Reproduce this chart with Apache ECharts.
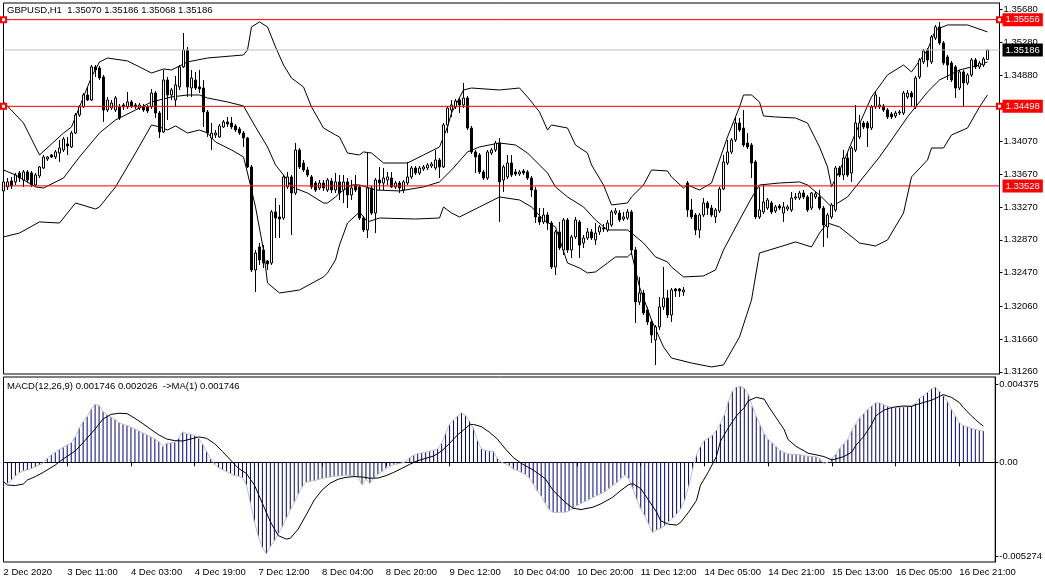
<!DOCTYPE html>
<html><head><meta charset="utf-8">
<script src="https://cdn.jsdelivr.net/npm/echarts@6/dist/echarts.min.js"></script>
<style>html,body{margin:0;padding:0;background:#fff}#c{width:1045px;height:584px}</style>
</head><body><div id="c"></div>
<script>
const symbolName = 'GBPUSD,H1';
const timeLabels = ['2 Dec 2020','3 Dec 11:00','4 Dec 03:00','4 Dec 19:00','7 Dec 12:00','8 Dec 04:00','8 Dec 20:00','9 Dec 12:00','10 Dec 04:00','10 Dec 20:00','11 Dec 12:00','14 Dec 05:00','14 Dec 21:00','15 Dec 13:00','16 Dec 05:00','16 Dec 21:00'];
const priceTicks = ['1.35680','1.35280','1.34880','1.34470','1.34070','1.33670','1.33270','1.32870','1.32470','1.32060','1.31660','1.31260'];
const macdTicks = [0.004375, 0, -0.005274];
const redLevels = [1.35556, 1.34498, 1.33528];
const lastPrice = 1.35186;

// [open, close, low, high]
const candles = [
[1.33466,1.33576,1.33441,1.33624],[1.33515,1.33576,1.33478,1.33624],[1.33588,1.33527,1.33490,1.33637],[1.33576,1.33661,1.33539,1.33685],[1.33685,1.33624,1.33576,1.33710],
[1.33600,1.33698,1.33515,1.33722],[1.33698,1.33600,1.33563,1.33722],[1.33685,1.33539,1.33515,1.33710],[1.33539,1.33661,1.33527,1.33685],[1.33649,1.33759,1.33624,1.33771],
[1.33746,1.33881,1.33734,1.33905],[1.33856,1.33881,1.33832,1.33893],[1.33905,1.33881,1.33868,1.33917],[1.33881,1.33942,1.33856,1.33966],[1.33929,1.33990,1.33820,1.34088],
[1.33966,1.34100,1.33942,1.34125],[1.34039,1.34015,1.33905,1.34125],[1.34003,1.34173,1.33990,1.34198],[1.34173,1.34393,1.34161,1.34417],[1.34393,1.34491,1.34369,1.34515],
[1.34491,1.34637,1.34478,1.34661],[1.34637,1.34576,1.34564,1.34735],[1.34576,1.34979,1.34564,1.35003],[1.34979,1.34942,1.34857,1.35003],[1.34966,1.34844,1.34820,1.34991],
[1.34857,1.34454,1.34308,1.34881],[1.34454,1.34576,1.34430,1.34613],[1.34478,1.34539,1.34454,1.34576],[1.34454,1.34600,1.34430,1.34625],[1.34491,1.34356,1.34332,1.34527],
[1.34515,1.34491,1.34454,1.34539],[1.34491,1.34552,1.34466,1.34674],[1.34552,1.34503,1.34478,1.34576],[1.34515,1.34491,1.34466,1.34539],[1.34478,1.34515,1.34454,1.34539],
[1.34491,1.34454,1.34430,1.34527],[1.34491,1.34442,1.34417,1.34515],[1.34491,1.34661,1.34466,1.34710],[1.34661,1.34417,1.34356,1.34686],[1.34417,1.34186,1.34112,1.34442],
[1.34186,1.34820,1.34173,1.34942],[1.34820,1.34637,1.34332,1.34857],[1.34637,1.34698,1.34576,1.34722],[1.34576,1.34759,1.34491,1.34869],[1.34735,1.34979,1.34698,1.35003],
[1.34979,1.35186,1.34966,1.35393],[1.35186,1.34735,1.34613,1.35223],[1.34722,1.34844,1.34613,1.34942],[1.34820,1.34722,1.34698,1.34918],[1.34735,1.34710,1.34661,1.34942],
[1.34722,1.34430,1.34247,1.34820],[1.34430,1.34173,1.34125,1.34454],[1.34112,1.34173,1.33966,1.34295],[1.34149,1.34173,1.34112,1.34210],[1.34125,1.34259,1.34112,1.34283],
[1.34247,1.34308,1.34234,1.34332],[1.34308,1.34283,1.34247,1.34369],[1.34295,1.34247,1.34222,1.34369],[1.34259,1.34210,1.34186,1.34283],[1.34222,1.34173,1.34149,1.34247],
[1.34173,1.34112,1.34003,1.34198],[1.34112,1.33759,1.33746,1.34125],[1.33759,1.32502,1.32478,1.33783],[1.32502,1.32709,1.32234,1.32746],[1.32783,1.32624,1.32563,1.32831],
[1.32746,1.32587,1.32526,1.32807],[1.32612,1.32575,1.32502,1.32624],[1.32587,1.33210,1.32563,1.33234],[1.33210,1.33136,1.32892,1.33380],[1.33149,1.33124,1.32892,1.33295],
[1.33136,1.33637,1.33112,1.33661],[1.33515,1.33637,1.33490,1.33698],[1.33637,1.33441,1.32929,1.33661],[1.33441,1.33966,1.33417,1.34051],[1.33966,1.33759,1.33734,1.33990],
[1.33807,1.33722,1.33698,1.33844],[1.33722,1.33661,1.33637,1.33759],[1.33637,1.33515,1.33490,1.33661],[1.33563,1.33478,1.33454,1.33588],[1.33502,1.33563,1.33478,1.33600],
[1.33563,1.33502,1.33466,1.33600],[1.33478,1.33600,1.33454,1.33624],[1.33588,1.33478,1.33441,1.33624],[1.33478,1.33576,1.33441,1.33685],[1.33576,1.33441,1.33356,1.33661],
[1.33478,1.33576,1.33319,1.33661],[1.33576,1.33417,1.33258,1.33624],[1.33417,1.33502,1.33356,1.33600],[1.33539,1.33478,1.33454,1.33661],[1.33515,1.33136,1.33112,1.33539],
[1.33136,1.32990,1.32966,1.33161],[1.32990,1.33502,1.32892,1.33929],[1.33502,1.33197,1.33173,1.33527],[1.33197,1.33600,1.32953,1.33624],[1.33600,1.33563,1.33478,1.33759],
[1.33563,1.33624,1.33478,1.33746],[1.33600,1.33637,1.33539,1.33698],[1.33624,1.33515,1.33502,1.33698],[1.33515,1.33563,1.33490,1.33588],[1.33563,1.33502,1.33441,1.33588],
[1.33478,1.33576,1.33441,1.33600],[1.33563,1.33637,1.33539,1.33820],[1.33637,1.33746,1.33612,1.33771],[1.33746,1.33685,1.33661,1.33771],[1.33685,1.33746,1.33661,1.33771],
[1.33734,1.33759,1.33710,1.33783],[1.33746,1.33783,1.33722,1.33807],[1.33771,1.33795,1.33746,1.33820],[1.33746,1.33844,1.33722,1.33966],[1.33844,1.33759,1.33624,1.33868],
[1.33759,1.34271,1.33746,1.34295],[1.34271,1.34478,1.34173,1.34503],[1.34454,1.34515,1.34369,1.34576],[1.34491,1.34564,1.34466,1.34588],[1.34576,1.34515,1.34417,1.34600],
[1.34515,1.34600,1.34478,1.34783],[1.34600,1.34234,1.34210,1.34625],[1.34234,1.33942,1.33917,1.34259],[1.33942,1.33881,1.33685,1.33966],[1.33905,1.33698,1.33673,1.33929],
[1.33698,1.33624,1.33600,1.33722],[1.33624,1.33942,1.33600,1.33966],[1.33929,1.33966,1.33905,1.33990],[1.33966,1.34051,1.33942,1.34076],[1.34051,1.33576,1.33088,1.34112],
[1.33600,1.33759,1.33454,1.33783],[1.33637,1.33807,1.33612,1.33905],[1.33807,1.33661,1.33637,1.33905],[1.33698,1.33673,1.33649,1.33734],[1.33673,1.33698,1.33649,1.33722],
[1.33710,1.33685,1.33661,1.33734],[1.33698,1.33624,1.33600,1.33722],[1.33624,1.33478,1.33393,1.33649],[1.33478,1.33149,1.33075,1.33515],[1.33149,1.33088,1.33051,1.33258],
[1.33088,1.33173,1.33063,1.33258],[1.33173,1.33075,1.32990,1.33210],[1.33075,1.32539,1.32514,1.33100],[1.32539,1.32966,1.32441,1.32990],[1.32966,1.32771,1.32746,1.33088],
[1.32746,1.33112,1.32685,1.33136],[1.33112,1.32746,1.32709,1.33136],[1.32746,1.32905,1.32648,1.32929],[1.32905,1.33112,1.32880,1.33149],[1.33088,1.32807,1.32648,1.33112],
[1.32831,1.32892,1.32770,1.32929],[1.32892,1.32966,1.32868,1.33014],[1.32966,1.32892,1.32868,1.33002],[1.32868,1.32953,1.32807,1.33075],[1.32966,1.33027,1.32929,1.33051],
[1.33014,1.33002,1.32966,1.33063],[1.32990,1.33075,1.32966,1.33112],[1.33051,1.33210,1.33027,1.33234],[1.33197,1.33222,1.33173,1.33258],[1.33197,1.33112,1.33088,1.33234],
[1.33124,1.33149,1.33100,1.33210],[1.33136,1.33210,1.33112,1.33246],[1.33210,1.32746,1.32685,1.33234],[1.32746,1.32112,1.31855,1.32783],[1.32112,1.32221,1.32075,1.32417],
[1.32221,1.31977,1.31953,1.32258],[1.32014,1.31868,1.31831,1.32051],[1.31868,1.31709,1.31611,1.31892],[1.31648,1.31807,1.31343,1.31831],[1.31807,1.32051,1.31770,1.32173],
[1.32051,1.32160,1.32014,1.32539],[1.32160,1.31953,1.31916,1.32258],[1.31953,1.32258,1.31868,1.32282],[1.32270,1.32246,1.32173,1.32282],[1.32270,1.32246,1.32173,1.32282],
[1.32234,1.32258,1.32185,1.32295],[1.33563,1.33234,1.33149,1.33588],[1.33234,1.33149,1.33124,1.33368],[1.33173,1.32990,1.32929,1.33197],[1.32990,1.33173,1.32892,1.33197],
[1.33173,1.33319,1.33149,1.33380],[1.33319,1.33258,1.33173,1.33344],[1.33258,1.33173,1.33149,1.33295],[1.33149,1.33234,1.33075,1.33258],[1.33222,1.33490,1.33197,1.33515],
[1.33490,1.33820,1.33478,1.33905],[1.33807,1.33942,1.33783,1.34088],[1.33942,1.34088,1.33917,1.34112],[1.34088,1.34295,1.34064,1.34369],[1.34295,1.34210,1.34186,1.34356],
[1.34234,1.34027,1.34003,1.34454],[1.34051,1.34003,1.33978,1.34173],[1.34027,1.33807,1.33624,1.34051],[1.33820,1.33149,1.33124,1.33844],[1.33149,1.33234,1.33124,1.33515],
[1.33210,1.33332,1.33185,1.33539],[1.33258,1.33356,1.33234,1.33380],[1.33319,1.33210,1.33185,1.33344],[1.33222,1.33271,1.33197,1.33295],[1.33283,1.33258,1.33234,1.33307],
[1.33197,1.33271,1.33088,1.33332],[1.33246,1.33271,1.33222,1.33295],[1.33234,1.33380,1.33210,1.33454],[1.33380,1.33393,1.33356,1.33441],[1.33380,1.33441,1.33356,1.33466],
[1.33441,1.33393,1.33368,1.33478],[1.33393,1.33234,1.33210,1.33417],[1.33258,1.33441,1.33234,1.33454],[1.33393,1.33429,1.33368,1.33454],[1.33393,1.33258,1.33234,1.33478],
[1.33258,1.33051,1.32783,1.33283],[1.33027,1.33173,1.32892,1.33197],[1.33149,1.33295,1.33124,1.33319],[1.33234,1.33746,1.33210,1.33771],[1.33746,1.33661,1.33637,1.33771],
[1.33661,1.33868,1.33600,1.33966],[1.33868,1.33661,1.33637,1.33942],[1.33685,1.33990,1.33576,1.34015],[1.33966,1.34295,1.33942,1.34515],[1.34125,1.34295,1.34100,1.34393],
[1.34295,1.34247,1.34222,1.34320],[1.34295,1.34234,1.34003,1.34320],[1.34234,1.34491,1.34210,1.34515],[1.34491,1.34637,1.34466,1.34674],[1.34491,1.34515,1.34466,1.34613],
[1.34503,1.34454,1.34430,1.34527],[1.34454,1.34369,1.34344,1.34478],[1.34405,1.34369,1.34344,1.34430],[1.34381,1.34417,1.34356,1.34442],[1.34417,1.34430,1.34393,1.34454],
[1.34417,1.34661,1.34393,1.34686],[1.34613,1.34661,1.34588,1.34698],[1.34661,1.34613,1.34491,1.34686],[1.34491,1.34844,1.34466,1.34869],[1.34857,1.35064,1.34832,1.35088],
[1.35040,1.35174,1.35015,1.35198],[1.35186,1.35064,1.34979,1.35210],[1.35040,1.35345,1.35015,1.35369],[1.35332,1.35467,1.35308,1.35491],[1.35467,1.35271,1.35247,1.35528],
[1.35271,1.35027,1.35003,1.35296],[1.35101,1.35003,1.34820,1.35125],[1.35027,1.34820,1.34796,1.35052],[1.34979,1.34722,1.34600,1.35003],[1.34722,1.34918,1.34698,1.34942],
[1.34918,1.34783,1.34503,1.34942],[1.34783,1.34881,1.34759,1.34905],[1.34881,1.35064,1.34857,1.35088],[1.35064,1.34979,1.34954,1.35088],[1.34979,1.35027,1.34954,1.35052],
[1.35003,1.35076,1.34979,1.35101],[1.35070,1.35186,1.35068,1.35186]
];

// Bollinger bands read at sample bars: [barIndex, value]
const bbUpper = [[0,1.34552],[5,1.34295],[9,1.33905],[15,1.34173],[17,1.34247],[20,1.34613],[22,1.34857],[24,1.35040],[26,1.35088],[31,1.35052],[34,1.34979],[37,1.34905],[40,1.34954],[42,1.34942],[46,1.35040],[51,1.35088],[60,1.35125],[61,1.35186],[62,1.35467],[64,1.35528],[66,1.35467],[68,1.35223],[70,1.35003],[72,1.34844],[75,1.34735],[77,1.34491],[80,1.34234],[83,1.34149],[84,1.34125],[86,1.33929],[89,1.33905],[90,1.33942],[92,1.33929],[95,1.33807],[101,1.33807],[105,1.33905],[109,1.34003],[111,1.34247],[112,1.34417],[115,1.34698],[117,1.34722],[124,1.34698],[129,1.34722],[131,1.34613],[134,1.34430],[136,1.34210],[137,1.34271],[141,1.34234],[143,1.34027],[146,1.33929],[147,1.33783],[150,1.33539],[152,1.33295],[156,1.33319],[157,1.33393],[160,1.33539],[162,1.33722],[166,1.33710],[167,1.33637],[170,1.33502],[171,1.33539],[174,1.33478],[177,1.33563],[179,1.33844],[181,1.34125],[184,1.34491],[185,1.34637],[187,1.34637],[189,1.34552],[190,1.34381],[193,1.34369],[198,1.34356],[201,1.34295],[204,1.34003],[206,1.33759],[207,1.33515],[210,1.33820],[213,1.34173],[217,1.34613],[221,1.34881],[225,1.35003],[227,1.34918],[231,1.35186],[233,1.35430],[236,1.35491],[241,1.35491],[246,1.35406]];
const bbMiddle = [[0,1.33722],[3,1.33661],[8,1.33515],[10,1.33502],[15,1.33624],[19,1.33881],[24,1.34173],[28,1.34332],[33,1.34454],[37,1.34552],[42,1.34613],[46,1.34637],[49,1.34637],[51,1.34600],[56,1.34552],[60,1.34503],[61,1.34417],[63,1.34247],[66,1.34003],[68,1.33783],[71,1.33600],[72,1.33515],[76,1.33441],[80,1.33319],[81,1.33319],[83,1.33393],[84,1.33441],[87,1.33539],[89,1.33539],[93,1.33478],[99,1.33466],[105,1.33515],[109,1.33576],[112,1.33722],[116,1.33942],[119,1.34003],[124,1.34051],[128,1.34027],[131,1.33929],[136,1.33685],[138,1.33515],[141,1.33393],[145,1.33271],[148,1.33112],[151,1.32990],[156,1.32990],[157,1.32953],[160,1.32831],[163,1.32661],[166,1.32600],[167,1.32539],[170,1.32417],[175,1.32429],[178,1.32502],[180,1.32746],[184,1.33112],[187,1.33380],[189,1.33539],[194,1.33563],[199,1.33576],[201,1.33539],[204,1.33417],[207,1.33271],[211,1.33393],[214,1.33576],[219,1.33881],[222,1.34088],[226,1.34369],[231,1.34674],[234,1.34820],[239,1.34942],[244,1.35003],[246,1.35040]];
const bbLower = [[0,1.32905],[4,1.32953],[9,1.33088],[14,1.33075],[18,1.33319],[23,1.33246],[24,1.33271],[28,1.33515],[33,1.33929],[37,1.34271],[39,1.34247],[41,1.34210],[43,1.34259],[46,1.34173],[49,1.34210],[51,1.34173],[53,1.34064],[57,1.33966],[60,1.33881],[61,1.33685],[63,1.33271],[65,1.32746],[66,1.32344],[69,1.32221],[74,1.32258],[80,1.32417],[81,1.32466],[83,1.32624],[84,1.32807],[86,1.33075],[89,1.33210],[91,1.33088],[94,1.33136],[103,1.33124],[109,1.33136],[110,1.33271],[112,1.33197],[114,1.33149],[119,1.33271],[124,1.33393],[129,1.33356],[132,1.33271],[135,1.33112],[138,1.33027],[141,1.32587],[144,1.32526],[146,1.32466],[148,1.32478],[151,1.32587],[153,1.32661],[156,1.32661],[157,1.32709],[159,1.32295],[162,1.31892],[165,1.31563],[167,1.31428],[172,1.31367],[177,1.31319],[180,1.31343],[184,1.31685],[187,1.32136],[189,1.32709],[194,1.32783],[198,1.32844],[202,1.32783],[204,1.32953],[206,1.33075],[209,1.33027],[214,1.32831],[218,1.32795],[221,1.32868],[225,1.33197],[227,1.33637],[231,1.33844],[232,1.33990],[235,1.33990],[237,1.34149],[241,1.34234],[244,1.34491],[246,1.34637]];

// MACD main (histogram) per bar
const macd = [
-0.00136,-0.00117,-0.00099,-0.00075,-0.00058,-0.00048,-0.00043,-0.00035,-0.00026,-0.00015,
-0.00004,0.00022,0.00041,0.00056,0.00071,0.00084,0.00097,0.00108,0.00142,0.00190,
0.00227,0.00255,0.00296,0.00324,0.00317,0.00283,0.00265,0.00253,0.00239,0.00222,
0.00212,0.00205,0.00196,0.00186,0.00175,0.00164,0.00153,0.00142,0.00130,0.00116,
0.00088,0.00106,0.00108,0.00112,0.00134,0.00170,0.00160,0.00157,0.00149,0.00134,
0.00101,0.00060,0.00019,-0.00011,-0.00030,-0.00041,-0.00052,-0.00063,-0.00073,-0.00078,
-0.00086,-0.00127,-0.00229,-0.00332,-0.00415,-0.00477,-0.00512,-0.00471,-0.00440,-0.00402,
-0.00360,-0.00313,-0.00266,-0.00224,-0.00179,-0.00136,-0.00112,-0.00106,-0.00103,-0.00097,
-0.00091,-0.00086,-0.00082,-0.00078,-0.00076,-0.00075,-0.00071,-0.00073,-0.00076,-0.00080,
-0.00127,-0.00095,-0.00117,-0.00086,-0.00067,-0.00052,-0.00035,-0.00022,-0.00013,-0.00008,
-0.00004,0.00004,0.00026,0.00039,0.00048,0.00052,0.00056,0.00062,0.00067,0.00075,
0.00106,0.00162,0.00212,0.00237,0.00257,0.00276,0.00261,0.00231,0.00190,0.00123,
0.00075,0.00067,0.00063,0.00060,0.00022,0.00000,-0.00008,-0.00019,
-0.00038,-0.00045,-0.00057,-0.00068,-0.00087,-0.00121,-0.00159,-0.00189,-0.00228,-0.00264,
-0.00279,-0.00281,-0.00279,-0.00279,-0.00272,-0.00257,-0.00242,-0.00230,-0.00219,-0.00208,
-0.00196,-0.00185,-0.00176,-0.00164,-0.00147,-0.00128,-0.00113,-0.00091,-0.00072,-0.00091,
-0.00147,-0.00208,-0.00261,-0.00298,-0.00346,-0.00393,-0.00378,-0.00368,-0.00355,-0.00332,
-0.00312,-0.00289,-0.00261,-0.00213,-0.00138,-0.00040,0.00042,0.00089,0.00121,0.00136,
0.00151,0.00178,0.00217,0.00264,0.00340,0.00397,0.00419,0.00423,0.00415,0.00381,
0.00315,0.00259,0.00208,0.00159,0.00127,0.00108,0.00087,0.00066,0.00055,0.00047,
0.00045,0.00045,0.00042,0.00036,0.00034,0.00032,0.00030,0.00019,-0.00006,0.00000,
0.00023,0.00045,0.00079,0.00104,0.00127,0.00178,0.00215,0.00249,0.00272,0.00295,
0.00315,0.00332,0.00332,0.00321,0.00313,0.00306,0.00306,0.00308,0.00310,0.00312,
0.00317,0.00329,0.00359,0.00372,0.00391,0.00410,0.00419,0.00397,0.00374,0.00340,
0.00296,0.00259,0.00220,0.00205,0.00198,0.00190,0.00184,0.00178,0.001746
];

// MACD signal read at sample bars: [barIndex, value]
const signal = [[0,-0.00108],[1,-0.00127],[3,-0.00130],[5,-0.00121],[6,-0.00099],[8,-0.00080],[10,-0.00056],[13,-0.00015],[15,0.00019],[18,0.00063],[20,0.00110],[23,0.00186],[25,0.00242],[27,0.00268],[29,0.00274],[31,0.00272],[33,0.00246],[35,0.00216],[37,0.00184],[39,0.00153],[41,0.00130],[43,0.00121],[45,0.00119],[47,0.00130],[49,0.00142],[51,0.00134],[53,0.00104],[55,0.00060],[57,0.00013],[59,-0.00034],[61,-0.00063],[63,-0.00127],[65,-0.00229],[67,-0.00332],[69,-0.00410],[71,-0.00429],[72,-0.00425],[74,-0.00373],[76,-0.00294],[78,-0.00211],[80,-0.00155],[82,-0.00117],[84,-0.00095],[86,-0.00084],[88,-0.00080],[90,-0.00082],[92,-0.00089],[94,-0.00088],[96,-0.00075],[98,-0.00056],[100,-0.00034],[102,-0.00011],[104,0.00009],[106,0.00022],[108,0.00035],[110,0.00063],[112,0.00106],[114,0.00153],[116,0.00190],[117,0.00209],[118,0.00212],[120,0.00199],[122,0.00168],[124,0.00130],[126,0.00075],[128,0.00027],[130,-0.00006],[133,-0.00043],[136,-0.00091],[138,-0.00157],[141,-0.00223],[143,-0.00257],[145,-0.00264],[148,-0.00251],[150,-0.00232],[153,-0.00195],[155,-0.00157],[157,-0.00125],[158,-0.00119],[160,-0.00147],[162,-0.00213],[164,-0.00279],[165,-0.00327],[167,-0.00346],[169,-0.00351],[170,-0.00336],[172,-0.00279],[174,-0.00213],[175,-0.00128],[177,-0.00053],[179,0.00032],[180,0.00117],[182,0.00193],[184,0.00259],[186,0.00306],[187,0.00344],[189,0.00363],[191,0.00353],[192,0.00315],[194,0.00249],[196,0.00183],[197,0.00127],[199,0.00089],[201,0.00064],[202,0.00051],[204,0.00042],[206,0.00032],[208,0.00013],[209,0.00019],[211,0.00032],[213,0.00057],[214,0.00094],[216,0.00145],[218,0.00212],[219,0.00259],[221,0.00291],[223,0.00306],[224,0.00310],[226,0.00315],[228,0.00312],[229,0.00321],[231,0.00334],[233,0.00347],[235,0.00368],[236,0.00378],[238,0.00363],[240,0.00334],[241,0.00306],[243,0.00260],[244,0.00240],[245,0.00220],[246,0.002026]];

const FONT = '"Liberation Sans", Arial, sans-serif';
const NCAT = 250;
const categories = Array.from({length: NCAT}, (_, i) => String(i));
const last = candles[candles.length - 1];
const f5 = v => v.toFixed(5);
const macdLast = macd[macd.length - 1];
const sigLast = signal[signal.length - 1][1];

const chart = echarts.init(document.getElementById('c'), null, {renderer: 'canvas'});

// horizontal price level drawn as a two-point line across the whole axis, labelled at its end
const levelSeries = (v, color, bg, squares) => ({
  type: 'line', xAxisIndex: 0, yAxisIndex: 0, silent: true, z: 5, clip: false,
  data: [[0, v], [NCAT - 1, v]],
  symbol: squares ? 'emptyRect' : 'none', showSymbol: squares, showAllSymbol: true, symbolSize: 5,
  itemStyle: {color: color, borderColor: color, borderWidth: 1},
  lineStyle: {color: color, width: 1},
  endLabel: {show: true, distance: 3, formatter: () => f5(v), color: '#fff', backgroundColor: bg,
             padding: [2, 3, 1, 3], fontSize: 9.5, fontFamily: FONT}
});

chart.setOption({
  animation: false,
  backgroundColor: '#fff',
  title: [
    {text: `${symbolName}  ${f5(last[0])} ${f5(last[3])} ${f5(last[2])} ${f5(last[1])}`, left: 7, top: 5, padding: 0,
     textStyle: {fontSize: 9.5, fontWeight: 'normal', color: '#000', fontFamily: FONT}},
    {text: `MACD(12,26,9) ${macdLast.toFixed(6)} ${sigLast.toFixed(6)}  ->MA(1) ${macdLast.toFixed(6)}`, left: 7, top: 381, padding: 0,
     textStyle: {fontSize: 9.5, fontWeight: 'normal', color: '#000', fontFamily: FONT}}
  ],
  grid: [
    {left: 3.5, top: 3, width: 996, height: 371, show: true, borderColor: '#000', borderWidth: 1},
    {left: 3.5, top: 377, width: 996, height: 185, show: true, borderColor: '#000', borderWidth: 1}
  ],
  xAxis: [
    {gridIndex: 0, type: 'category', data: categories, boundaryGap: false,
     axisLine: {show: false}, axisTick: {show: false}, axisLabel: {show: false}, splitLine: {show: false}},
    {gridIndex: 1, type: 'category', data: categories, boundaryGap: false,
     axisLine: {show: true, lineStyle: {color: '#000'}},
     axisTick: {show: true, interval: 15, length: 4, lineStyle: {color: '#000'}},
     axisLabel: {interval: 15, align: 'left', margin: 5, fontSize: 9.5, color: '#000', fontFamily: FONT,
       formatter: (v, idx) => timeLabels[Math.round(idx / 16)] || ''},
     splitLine: {show: false}}
  ],
  yAxis: [
    {gridIndex: 0, type: 'value', position: 'right', min: 1.31233, max: 1.35759, scale: true,
     splitLine: {show: false},
     axisLine: {show: true, lineStyle: {color: '#000'}},
     axisTick: {show: true, length: 3, customValues: priceTicks.map(Number), lineStyle: {color: '#000'}},
     axisLabel: {customValues: priceTicks.map(Number), formatter: v => v.toFixed(5), margin: 4,
       fontSize: 9.5, color: '#000', fontFamily: FONT}},
    {gridIndex: 1, type: 'value', position: 'right', min: -0.005573, max: 0.004768,
     splitLine: {show: false},
     axisLine: {show: true, lineStyle: {color: '#000'}},
     axisTick: {show: true, length: 3, customValues: macdTicks, lineStyle: {color: '#000'}},
     axisLabel: {customValues: macdTicks, formatter: v => (v === 0 ? '0.00' : v.toFixed(6)), margin: 4,
       fontSize: 9.5, color: '#000', fontFamily: FONT}}
  ],
  series: [
    {type: 'line', name: 'upper', xAxisIndex: 0, yAxisIndex: 0, data: bbUpper, symbol: 'none',
     lineStyle: {color: '#000', width: 1}, silent: true, z: 3},
    {type: 'line', name: 'middle', xAxisIndex: 0, yAxisIndex: 0, data: bbMiddle, symbol: 'none',
     lineStyle: {color: '#000', width: 1}, silent: true, z: 3},
    {type: 'line', name: 'lower', xAxisIndex: 0, yAxisIndex: 0, data: bbLower, symbol: 'none',
     lineStyle: {color: '#000', width: 1}, silent: true, z: 3},
    {type: 'candlestick', xAxisIndex: 0, yAxisIndex: 0, data: candles, barWidth: 3, z: 4,
     itemStyle: {color: '#fff', color0: '#000', borderColor: '#000', borderColor0: '#000', borderColorDoji: '#000', borderWidth: 1}},
    levelSeries(lastPrice, '#C0C0C0', '#000', false),
    levelSeries(redLevels[0], '#FF0000', '#FF0000', true),
    levelSeries(redLevels[1], '#FF0000', '#FF0000', true),
    levelSeries(redLevels[2], '#FF0000', '#FF0000', false),
    {type: 'bar', xAxisIndex: 1, yAxisIndex: 1, data: macd, barWidth: 1, itemStyle: {color: '#000080'}, silent: true},
    {type: 'line', xAxisIndex: 1, yAxisIndex: 1, data: macd, symbol: 'none', lineStyle: {color: '#C0C0C0', width: 1}, silent: true, z: 3},
    {type: 'line', xAxisIndex: 1, yAxisIndex: 1, data: signal, symbol: 'none', lineStyle: {color: '#000', width: 1}, silent: true, z: 4}
  ]
});
</script>
</body></html>
